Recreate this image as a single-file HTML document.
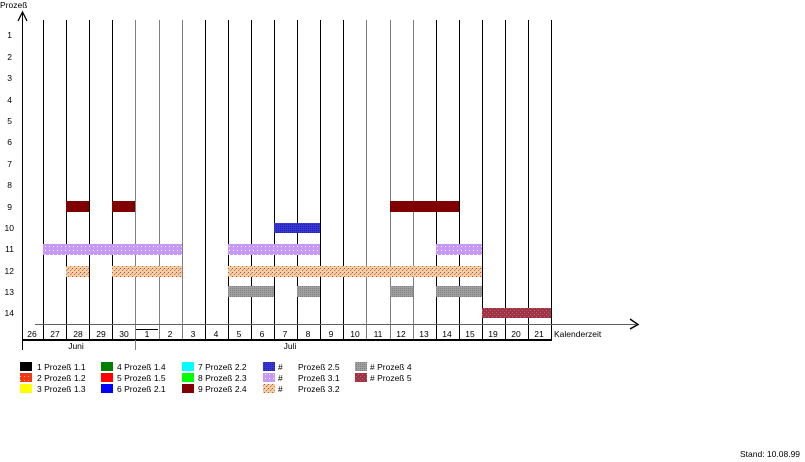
<!DOCTYPE html>
<html><head><meta charset="utf-8"><style>
body{margin:0;background:#fff}
svg{display:block}
text{font-family:"Liberation Sans",sans-serif;font-size:8.5px;fill:#000}
</style></head><body>
<svg width="805" height="462" viewBox="0 0 805 462" xmlns="http://www.w3.org/2000/svg">
<defs>
<pattern id="pg" width="4" height="4" patternUnits="userSpaceOnUse"><rect width="4" height="4" fill="#f0d0a0"/><rect x="0" y="0" width="1" height="1" fill="#f04020"/><rect x="2" y="2" width="1" height="1" fill="#f06040"/><rect x="3" y="1" width="1" height="1" fill="#a0a0e0"/></pattern>
<pattern id="lv" width="4" height="4" patternUnits="userSpaceOnUse"><rect width="4" height="4" fill="#c898f8"/><rect x="1" y="2" width="1" height="1" fill="#fff"/></pattern>
<pattern id="gr" width="2" height="2" patternUnits="userSpaceOnUse"><rect width="2" height="2" fill="#a0a0a0"/><rect width="1" height="1" fill="#808080"/></pattern>
<pattern id="bl" width="2" height="2" patternUnits="userSpaceOnUse"><rect width="2" height="2" fill="#3838d8"/><rect width="1" height="1" fill="#2020a0"/></pattern>
<pattern id="rm" width="4" height="4" patternUnits="userSpaceOnUse"><rect width="4" height="4" fill="#a83038"/><rect width="1" height="1" fill="#7070d0"/><rect x="2" y="2" width="1" height="1" fill="#8080c0"/></pattern>
<pattern id="r2" width="4" height="4" patternUnits="userSpaceOnUse"><rect width="4" height="4" fill="#f03818"/><rect width="1" height="1" fill="#f0c040"/></pattern>
</defs>
<text x="0" y="8">Prozeß</text>
<g stroke-width="1" shape-rendering="crispEdges">
<line x1="43.5" y1="20" x2="43.5" y2="340" stroke="#000"/>
<line x1="66.5" y1="20" x2="66.5" y2="340" stroke="#000"/>
<line x1="89.5" y1="20" x2="89.5" y2="340" stroke="#000"/>
<line x1="112.5" y1="20" x2="112.5" y2="340" stroke="#000"/>
<line x1="135.5" y1="20" x2="135.5" y2="340" stroke="#808080"/>
<line x1="159.5" y1="20" x2="159.5" y2="340" stroke="#808080"/>
<line x1="182.5" y1="20" x2="182.5" y2="340" stroke="#808080"/>
<line x1="205.5" y1="20" x2="205.5" y2="340" stroke="#000"/>
<line x1="228.5" y1="20" x2="228.5" y2="340" stroke="#000"/>
<line x1="251.5" y1="20" x2="251.5" y2="340" stroke="#000"/>
<line x1="274.5" y1="20" x2="274.5" y2="340" stroke="#000"/>
<line x1="297.5" y1="20" x2="297.5" y2="340" stroke="#000"/>
<line x1="320.5" y1="20" x2="320.5" y2="340" stroke="#000"/>
<line x1="343.5" y1="20" x2="343.5" y2="340" stroke="#000"/>
<line x1="366.5" y1="20" x2="366.5" y2="340" stroke="#808080"/>
<line x1="390.5" y1="20" x2="390.5" y2="340" stroke="#808080"/>
<line x1="413.5" y1="20" x2="413.5" y2="340" stroke="#808080"/>
<line x1="436.5" y1="20" x2="436.5" y2="340" stroke="#000"/>
<line x1="459.5" y1="20" x2="459.5" y2="340" stroke="#000"/>
<line x1="482.5" y1="20" x2="482.5" y2="340" stroke="#000"/>
<line x1="505.5" y1="20" x2="505.5" y2="340" stroke="#000"/>
<line x1="528.5" y1="20" x2="528.5" y2="340" stroke="#000"/>
<line x1="551.5" y1="20" x2="551.5" y2="340" stroke="#000"/>
<line x1="22.5" y1="12" x2="22.5" y2="350" stroke="#000"/>
</g>
<polyline points="18,21 22.5,12 27,21" fill="none" stroke="#000" stroke-width="1.3"/>
<g text-anchor="end">
<text x="12" y="38">1</text><text x="12" y="60">2</text><text x="12" y="81">3</text><text x="12" y="103">4</text><text x="12" y="124">5</text><text x="12" y="145">6</text><text x="12" y="167">7</text><text x="12" y="188">8</text><text x="12" y="210">9</text><text x="14" y="231">10</text><text x="14" y="252">11</text><text x="14" y="274">12</text><text x="14" y="295">13</text><text x="14" y="316">14</text>
</g>
<g fill="#800000"><rect x="66" y="201" width="23" height="11"/><rect x="112" y="201" width="23" height="11"/><rect x="390" y="201" width="69" height="11"/></g>
<rect x="274" y="223" width="46" height="10" fill="url(#bl)"/>
<g fill="url(#lv)"><rect x="43" y="244" width="139" height="11"/><rect x="228" y="244" width="92" height="11"/><rect x="436" y="244" width="46" height="11"/></g>
<g fill="url(#pg)"><rect x="66" y="266" width="23" height="11"/><rect x="112" y="266" width="70" height="11"/><rect x="228" y="266" width="254" height="11"/></g>
<g fill="url(#gr)"><rect x="228" y="286" width="46" height="11"/><rect x="297" y="286" width="23" height="11"/><rect x="390" y="286" width="23" height="11"/><rect x="436" y="286" width="46" height="11"/></g>
<rect x="482" y="308" width="69" height="10" fill="url(#rm)"/>
<g shape-rendering="crispEdges">
<line x1="35" y1="324.5" x2="636" y2="324.5" stroke="#606060" stroke-width="1"/>
<line x1="22" y1="340" x2="552" y2="340" stroke="#000" stroke-width="2"/>
<line x1="136" y1="329.5" x2="158" y2="329.5" stroke="#000" stroke-width="1"/>
<line x1="135.5" y1="340" x2="135.5" y2="350" stroke="#808080"/>
</g>
<polyline points="630,319 638,324.5 630,329" fill="none" stroke="#000" stroke-width="1.5"/>
<g text-anchor="middle">
<text x="32" y="337">26</text><text x="55" y="337">27</text><text x="78" y="337">28</text><text x="101" y="337">29</text><text x="124" y="337">30</text><text x="147" y="337">1</text><text x="170" y="337">2</text><text x="193" y="337">3</text><text x="216" y="337">4</text><text x="239" y="337">5</text><text x="262" y="337">6</text><text x="285" y="337">7</text><text x="308" y="337">8</text><text x="331" y="337">9</text><text x="355" y="337">10</text><text x="378" y="337">11</text><text x="401" y="337">12</text><text x="424" y="337">13</text><text x="447" y="337">14</text><text x="470" y="337">15</text><text x="493" y="337">19</text><text x="516" y="337">20</text><text x="539" y="337">21</text>
<text x="76" y="349">Juni</text><text x="290" y="349">Juli</text>
</g>
<text x="554" y="337">Kalenderzeit</text>
<g>
<rect x="20" y="362" width="12" height="9" fill="#000"/><text x="37" y="370">1 Prozeß 1.1</text>
<rect x="20" y="373" width="12" height="9" fill="url(#r2)"/><text x="37" y="381">2 Prozeß 1.2</text>
<rect x="20" y="384" width="12" height="9" fill="#ffff00"/><text x="37" y="392">3 Prozeß 1.3</text>
<rect x="101" y="362" width="12" height="9" fill="#008000"/><text x="117" y="370">4 Prozeß 1.4</text>
<rect x="101" y="373" width="12" height="9" fill="#ff0000"/><text x="117" y="381">5 Prozeß 1.5</text>
<rect x="101" y="384" width="12" height="9" fill="#0000ff"/><text x="117" y="392">6 Prozeß 2.1</text>
<rect x="182" y="362" width="12" height="9" fill="#00ffff"/><text x="198" y="370">7 Prozeß 2.2</text>
<rect x="182" y="373" width="12" height="9" fill="#00ff00"/><text x="198" y="381">8 Prozeß 2.3</text>
<rect x="182" y="384" width="12" height="9" fill="#800000"/><text x="198" y="392">9 Prozeß 2.4</text>
<rect x="263" y="362" width="12" height="9" fill="url(#bl)"/><text x="278" y="370">#</text><text x="298" y="370">Prozeß 2.5</text>
<rect x="263" y="373" width="12" height="9" fill="url(#lv)"/><text x="278" y="381">#</text><text x="298" y="381">Prozeß 3.1</text>
<rect x="263" y="384" width="12" height="9" fill="url(#pg)"/><text x="278" y="392">#</text><text x="298" y="392">Prozeß 3.2</text>
<rect x="355" y="362" width="12" height="9" fill="url(#gr)"/><text x="370" y="370"># Prozeß 4</text>
<rect x="355" y="373" width="12" height="9" fill="url(#rm)"/><text x="370" y="381"># Prozeß 5</text>
</g>
<text x="740" y="457">Stand: 10.08.99</text>
</svg>
</body></html>
